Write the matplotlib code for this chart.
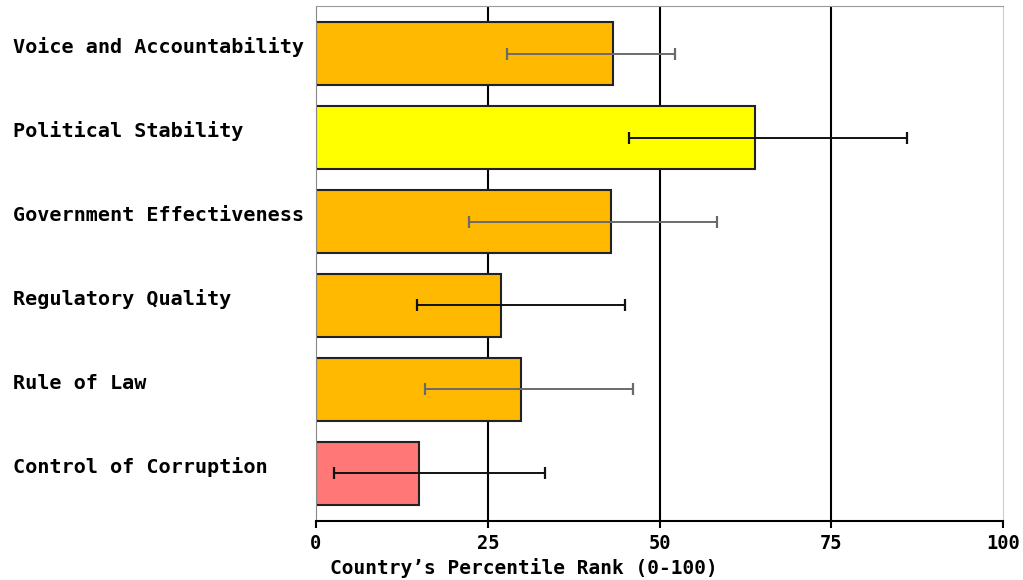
import matplotlib
matplotlib.use("Agg")
import matplotlib.pyplot as plt
import matplotlib.transforms as mtransforms

# Governance indicators, percentile rank with margin of error
indicators = ["Voice and Accountability", "Political Stability",
              "Government Effectiveness", "Regulatory Quality",
              "Rule of Law", "Control of Corruption"]
rank = [43.2, 63.9, 42.9, 26.9, 29.9, 15.0]
err_low = [27.8, 45.5, 22.3, 14.7, 15.8, 2.7]
err_high = [52.2, 86.0, 58.3, 45.0, 46.1, 33.3]
bar_colors = ["#FFB900", "#FFFF00", "#FFB900", "#FFB900", "#FFB900", "#FF7777"]
err_colors = ["#6a6a6a", "#111111", "#6a6a6a", "#111111", "#6a6a6a", "#111111"]
xticks = [0, 25, 50, 75, 100]

font = "DejaVu Sans Mono"

fig = plt.figure(figsize=(10.23, 5.80), dpi=100)
ax = fig.add_axes([0.3088, 0.1017, 0.672, 0.888])

ypos = list(range(len(indicators)))

# vertical grid lines behind bars
for x in xticks[1:-1]:
    ax.axvline(x, color="black", lw=1.5, zorder=0)

ax.barh(ypos, rank, height=0.75, color=bar_colors, edgecolor="#222222",
        linewidth=1.5, zorder=2)

for i in ypos:
    ax.errorbar((err_low[i] + err_high[i]) / 2, i,
                xerr=(err_high[i] - err_low[i]) / 2,
                fmt="none", ecolor=err_colors[i], elinewidth=1.4,
                capsize=4, capthick=1.6, zorder=3)

ax.set_xlim(0, 100)
ax.set_ylim(5.57, -0.57)
ax.set_xticks(xticks)
ax.set_xticklabels([str(x) for x in xticks], fontfamily=font,
                   fontweight="bold", fontsize=13.5)
ax.tick_params(axis="x", length=5, width=1.5, pad=4)
ax.set_yticks([])

# category labels, left aligned at the figure edge
trans = mtransforms.blended_transform_factory(fig.transFigure, ax.transData)
for i, name in enumerate(indicators):
    ax.text(13 / 1023, i - 0.075, name, transform=trans, ha="left",
            va="center", fontfamily=font, fontweight="bold", fontsize=14.5)

ax.set_xlabel("Country\u2019s Percentile Rank (0-100)", fontfamily=font,
              fontweight="bold", fontsize=14, labelpad=4, x=0.302)

ax.spines["left"].set_color("#888888")
ax.spines["top"].set_color("#999999")
ax.spines["right"].set_color("#cccccc")
ax.spines["bottom"].set_color("black")
ax.spines["bottom"].set_linewidth(1.5)

fig.savefig("out.png", dpi=100)
